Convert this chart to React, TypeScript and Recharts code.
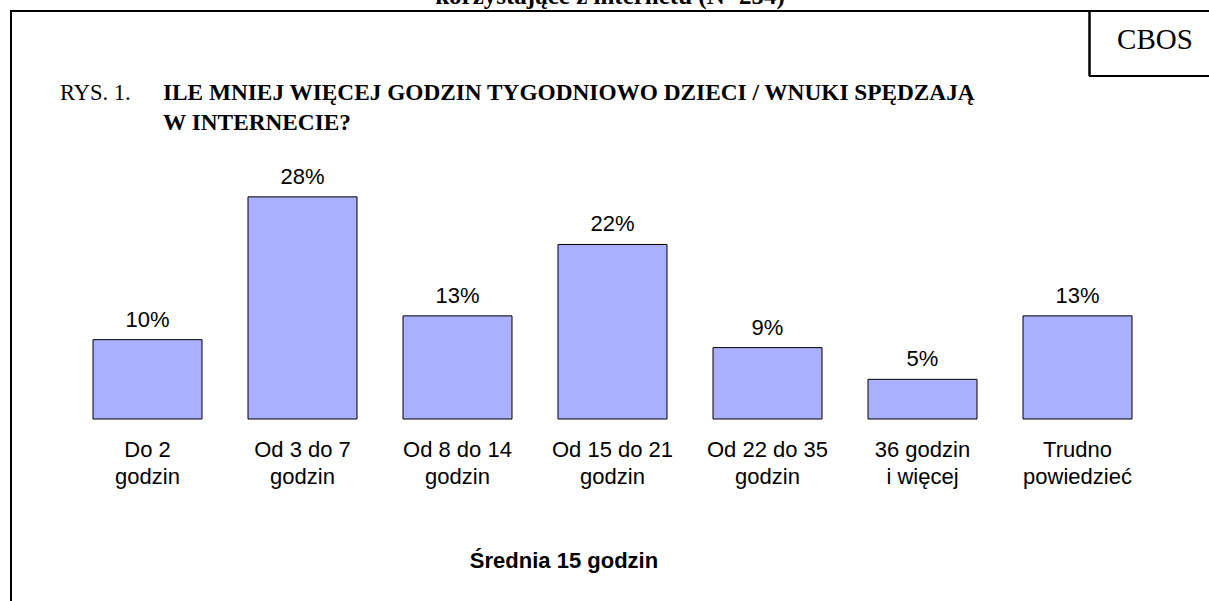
import React from 'react';
import { BarChart, Bar, XAxis, YAxis, LabelList } from 'recharts';

const categories = [
  'Do 2 godzin',
  'Od 3 do 7 godzin',
  'Od 8 do 14 godzin',
  'Od 15 do 21 godzin',
  'Od 22 do 35 godzin',
  '36 godzin i więcej',
  'Trudno powiedzieć',
];
const tickLine1 = ['Do 2', 'Od 3 do 7', 'Od 8 do 14', 'Od 15 do 21', 'Od 22 do 35', '36 godzin', 'Trudno'];
const tickLine2 = ['godzin', 'godzin', 'godzin', 'godzin', 'godzin', 'i więcej', 'powiedzieć'];
const values = [10, 28, 13, 22, 9, 5, 13];

const topText = 'korzystające z internetu (N=254)';
const figNo = 'RYS. 1.';
const titleLine1 = 'ILE MNIEJ WIĘCEJ GODZIN TYGODNIOWO DZIECI / WNUKI SPĘDZAJĄ';
const titleLine2 = 'W INTERNECIE?';
const source = 'CBOS';
const note = 'Średnia 15 godzin';

const data = categories.map((c, i) => ({ name: c, value: values[i] }));

const ARIAL = 'Arial, "Liberation Sans", sans-serif';
const TIMES = '"Times New Roman", "Liberation Serif", serif';

const CustomTick = (props: any) => {
  const { x, y, payload } = props;
  const i = categories.indexOf(payload.value);
  return (
    <g>
      <text x={x} y={y + 38} textAnchor="middle" fontFamily={ARIAL} fontSize={22} fill="#000">
        {tickLine1[i]}
      </text>
      <text x={x} y={y + 65} textAnchor="middle" fontFamily={ARIAL} fontSize={22} fill="#000">
        {tickLine2[i]}
      </text>
    </g>
  );
};

export default function App() {
  return (
    <div style={{ position: 'absolute', left: 0, top: 0, width: 1209, height: 601, background: '#fff' }}>
      <BarChart
        width={1209}
        height={601}
        data={data}
        margin={{ top: 181, right: 54, left: 70, bottom: 122 }}
      >
        <XAxis
          dataKey="name"
          axisLine={false}
          tickLine={false}
          tickSize={0}
          tickMargin={0}
          height={60}
          interval={0}
          tick={<CustomTick />}
        />
        <YAxis hide domain={[0, 30]} />
        <Bar dataKey="value" fill="#abafff" stroke="#000" strokeWidth={1} barSize={109} isAnimationActive={false}>
          <LabelList
            dataKey="value"
            position="top"
            offset={13}
            formatter={(v: any) => `${v}%`}
            style={{ fontFamily: ARIAL, fontSize: 22, fill: '#000' }}
          />
        </Bar>
      </BarChart>
      <svg
        width={1209}
        height={601}
        style={{ position: 'absolute', left: 0, top: 0, pointerEvents: 'none' }}
      >
        <text x={610} y={4} textAnchor="middle" fontFamily={TIMES} fontWeight="bold" fontSize={25} fill="#000">
          {topText}
        </text>
        <line x1={11} y1={11} x2={1209} y2={11} stroke="#000" strokeWidth={2} />
        <line x1={11} y1={10} x2={11} y2={601} stroke="#000" strokeWidth={2} />
        <line x1={1089.5} y1={11} x2={1089.5} y2={76} stroke="#000" strokeWidth={2.5} />
        <line x1={1089} y1={76} x2={1209} y2={76} stroke="#000" strokeWidth={2} />
        <text x={1155} y={49} textAnchor="middle" fontFamily={TIMES} fontSize={29} fill="#000">
          {source}
        </text>
        <text x={60} y={100} fontFamily={TIMES} fontSize={22.5} fill="#000">
          {figNo}
        </text>
        <text x={163} y={100} fontFamily={TIMES} fontWeight="bold" fontSize={23.3} fill="#000">
          {titleLine1}
        </text>
        <text x={163} y={130} fontFamily={TIMES} fontWeight="bold" fontSize={23.3} fill="#000">
          {titleLine2}
        </text>
        <text x={564} y={568} textAnchor="middle" fontFamily={ARIAL} fontWeight="bold" fontSize={22} fill="#000">
          {note}
        </text>
      </svg>
    </div>
  );
}
